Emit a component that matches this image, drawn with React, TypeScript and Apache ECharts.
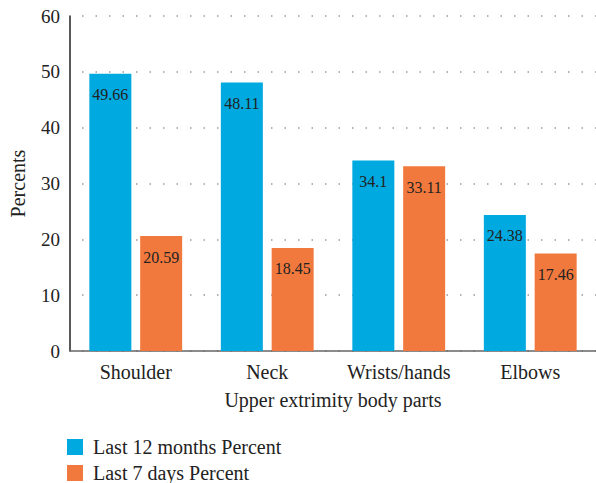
import React, { useEffect, useRef } from "react";
import * as echarts from "echarts";

const categories = ["Shoulder", "Neck", "Wrists/hands", "Elbows"];
const last12Months = [49.66, 48.11, 34.1, 24.38];
const last7Days = [20.59, 18.45, 33.11, 17.46];
const seriesNames = ["Last 12 months Percent", "Last 7 days Percent"];

const FONT = "'Liberation Serif', 'DejaVu Serif', serif";

export default function App() {
  const ref = useRef<HTMLDivElement>(null);
  useEffect(() => {
    if (!ref.current) return;
    const chart = echarts.init(ref.current, undefined, { renderer: "svg" });
    const label = {
      show: true,
      position: "insideTop",
      distance: 13,
      color: "#222",
      fontFamily: FONT,
      fontSize: 16,
    };
    chart.setOption({
      animation: false,
      textStyle: { fontFamily: FONT },
      grid: { left: 67, right: -4, top: 16, bottom: 132, containLabel: false },
      legend: {
        orient: "vertical",
        left: 67,
        top: 437,
        height: 80,
        padding: 0,
        itemWidth: 16,
        itemHeight: 16,
        itemGap: 6,
        icon: "rect",
        textStyle: {
          fontFamily: FONT,
          fontSize: 20,
          lineHeight: 20,
          color: "#222",
          padding: [0, 0, 0, 5],
        },
        data: seriesNames,
      },
      xAxis: {
        type: "category",
        data: categories,
        name: "Upper extrimity body parts",
        nameLocation: "middle",
        nameGap: 39,
        nameTextStyle: { fontFamily: FONT, fontSize: 20, color: "#222" },
        axisLine: { lineStyle: { color: "#666", width: 1.5 } },
        axisTick: { show: false },
        axisLabel: { interval: 0, fontFamily: FONT, fontSize: 20, color: "#222", margin: 11 },
      },
      yAxis: {
        type: "value",
        min: 0,
        max: 60,
        interval: 10,
        name: "Percents",
        nameLocation: "middle",
        nameGap: 42,
        nameTextStyle: { fontFamily: FONT, fontSize: 20, color: "#222" },
        axisLine: { show: true, lineStyle: { color: "#222", width: 1.5 } },
        axisTick: { show: false },
        axisLabel: { fontFamily: FONT, fontSize: 19, color: "#222", margin: 10 },
        splitLine: { lineStyle: { color: "#999", width: 1.5, type: [1.5, 12], dashOffset: -12 } },
      },
      series: [
        {
          name: seriesNames[0],
          type: "bar",
          data: last12Months,
          barWidth: 42,
          barGap: "21%",
          itemStyle: { color: "#00A9E0" },
          label,
        },
        {
          name: seriesNames[1],
          type: "bar",
          data: last7Days,
          barWidth: 42,
          barGap: "21%",
          itemStyle: { color: "#F2793D" },
          label,
        },
      ],
    });
    return () => chart.dispose();
  }, []);
  return (
    <div
      ref={ref}
      style={{ position: "fixed", left: 0, top: 0, width: 596, height: 483, background: "#fff" }}
    />
  );
}
